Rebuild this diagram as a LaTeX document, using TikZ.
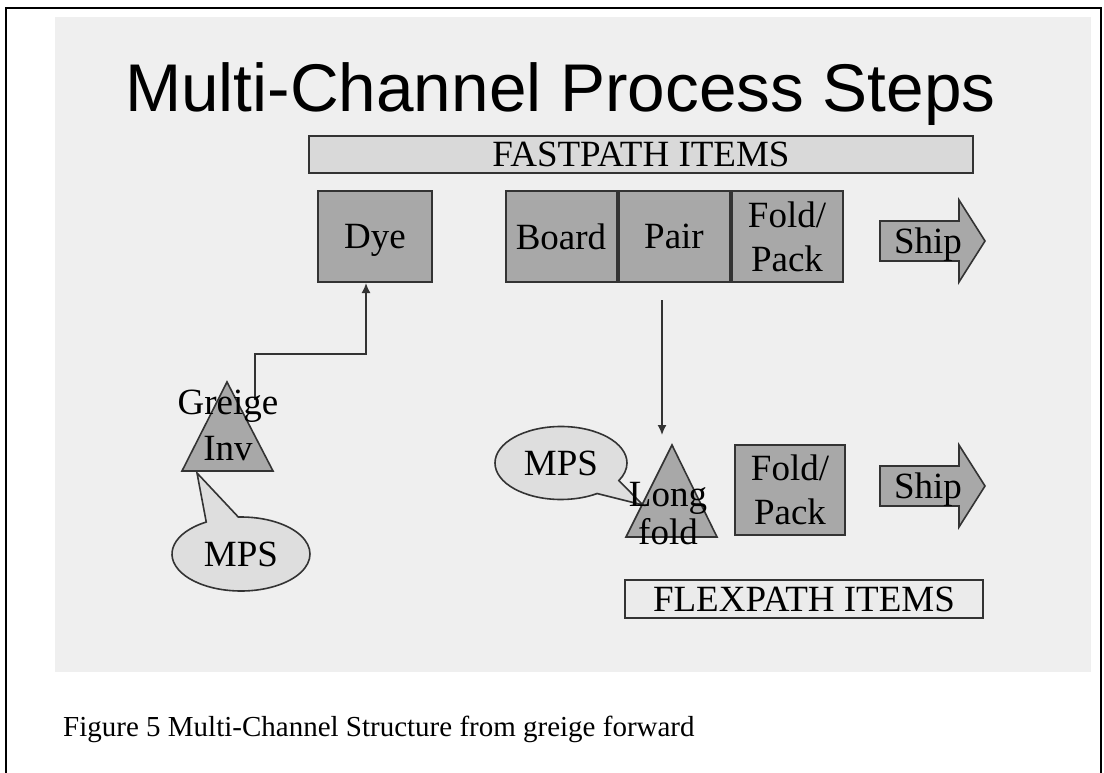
\documentclass[tikz,border=0pt]{standalone}
\usepackage{fontspec}
\setmainfont{Liberation Serif}
\newfontfamily\headfont{Liberation Sans}
\usetikzlibrary{positioning, arrows.meta, shapes.callouts}

\definecolor{slidebg}{HTML}{EFEFEF}
\definecolor{stepfill}{HTML}{A8A8A8}
\definecolor{barfill}{HTML}{D9D9D9}
\definecolor{flexfill}{HTML}{EBEBEB}
\definecolor{notefill}{HTML}{DEDEDE}
\definecolor{linegray}{HTML}{333333}

\begin{document}
\begin{tikzpicture}[
    x=1pt, y=-1pt,
    node distance=0pt, % boxes touch
    every node/.style={font=\fontsize{37}{44}\selectfont, text depth=0pt},
    stepbox/.style={draw=linegray, line width=2pt, fill=stepfill, minimum width=111pt, minimum height=91pt, align=center, inner sep=0pt},
    bar/.style={draw=linegray, line width=2pt, inner sep=0pt},
    note/.style={ellipse callout, draw=linegray, line width=1.6pt, fill=notefill, callout pointer arc=28, inner sep=0pt},
    tri/.style={draw=linegray, line width=1.6pt, fill=stepfill},
    shiparrow/.style={draw=linegray, line width=1.6pt, fill=stepfill},
    link/.style={linegray, line width=1.6pt, -{Latex[length=10pt,width=9pt]}}
]
    \useasboundingbox (0,0) rectangle (1104,773);

    % scanned slide and page frame
    \fill[slidebg] (55,17) rectangle (1091,672);
    \draw[line width=2pt] (6,773) -- (6,8) -- (1101,8) -- (1101,773);

    % Titles
    \node[anchor=base west, inner sep=0pt, font=\headfont\fontsize{67.5}{80}\selectfont] (title) at (125,112) {Multi-Channel Process Steps};
    \node[bar, fill=barfill, minimum width=664pt, minimum height=37pt] (fast) at (641,154.5) {FASTPATH ITEMS};
    \node[bar, fill=flexfill, minimum width=358pt, minimum height=38pt] (flex) at (804,599) {FLEXPATH ITEMS};

    % Fastpath steps
    \node[stepbox, minimum width=114pt] (dye) at (375,236.5) {Dye};
    \node[stepbox] (board) at (561,236.5) {Board};
    \node[stepbox] (pair) [right=of board] {Pair};
    \node[stepbox] (fold) [right=of pair] {Fold/\\Pack};

    % Flexpath steps
    \node[stepbox, minimum width=110pt, minimum height=90pt] (foldb) at (790,490) {Fold/\\Pack};

    % Ship arrows
    \foreach \y/\n in {241/shipa, 486/shipb} {
        \draw[shiparrow] (880,\y-20) -- (959,\y-20) -- (959,\y-41) -- (985,\y)
            -- (959,\y+41) -- (959,\y+20) -- (880,\y+20) -- cycle;
        \node (\n) at (928,\y) {Ship};
    }

    % Greige inventory
    \coordinate (gapex) at (227,382);
    \draw[tri] (gapex) -- ++(46,89) -- ++(-91,0) -- cycle;
    \coordinate (gcorner) at (197,473);
    \node[note, minimum width=138pt, minimum height=74pt, callout absolute pointer={(gcorner)}] (mpsa) at (241,554) {MPS};
    \coordinate (gstart) at (255,400);
    \coordinate (gbend) at (366,354);
    \draw[link] (gstart) |- (gbend) -- (gbend |- dye.south);
    \node[align=center, font=\fontsize{37}{46}\selectfont] (greige) at (228,425) {Greige\\Inv};

    % Long fold
    \coordinate (lapex) at (672,445);
    \draw[tri] (lapex) -- ++(45,92) -- ++(-91,0) -- cycle;
    \coordinate (lcorner) at (643,505);
    \node[note, minimum width=132pt, minimum height=73pt, callout absolute pointer={(lcorner)}] (mpsb) at (561,463) {MPS};
    \node[align=center, font=\fontsize{37}{38}\selectfont] (longfold) at (668,513) {Long\\fold};
    \coordinate (drop) at (662,300);
    \draw[link, shorten >=10pt] (drop) -- (drop |- lapex);

    % Caption
    \node[anchor=base west, inner sep=0pt, font=\fontsize{29}{34}\selectfont] (caption) at (63,736) {Figure 5 Multi-Channel Structure from greige forward};
\end{tikzpicture}
\end{document}
